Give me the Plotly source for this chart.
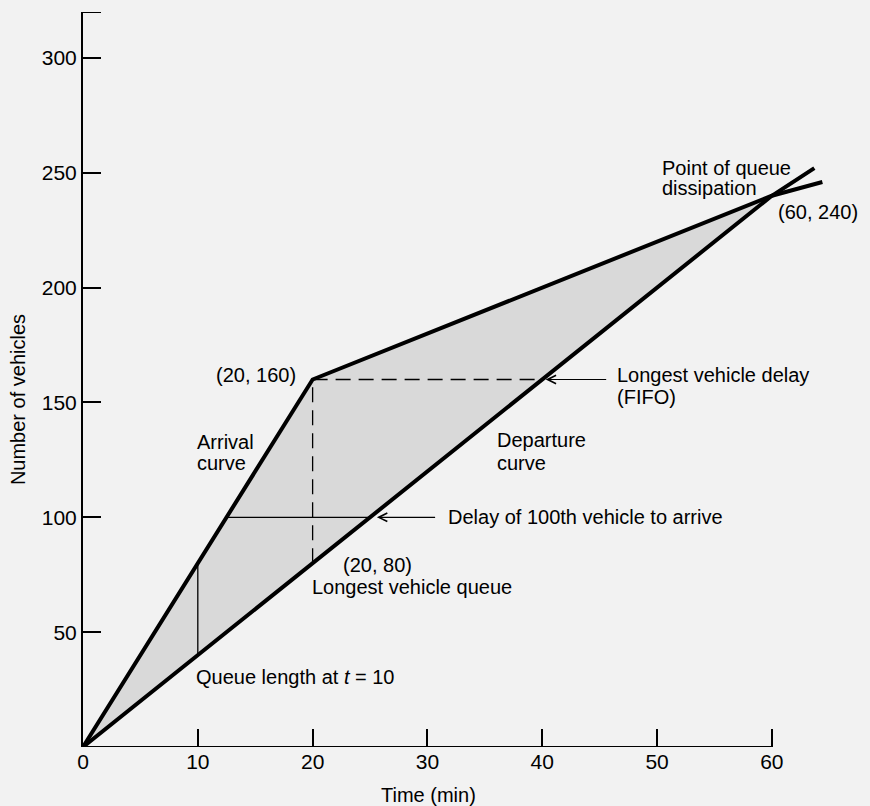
import plotly.graph_objects as go

# values
time_ticks = [0, 10, 20, 30, 40, 50, 60]
vehicle_ticks = [50, 100, 150, 200, 250, 300]
y_top = 320

arrival_time = [0, 20, 60, 64.4]
arrival_count = [0, 160, 240, 246]
departure_time = [0, 60, 63.7]
departure_count = [0, 240, 252]

queue_t10_time = [10, 10]
queue_t10_count = [40, 80]
longest_queue_time = [20, 20]
longest_queue_count = [80, 160]
longest_delay_time = [20, 40]
longest_delay_count = [160, 160]
delay100_time = [12.5, 25]
delay100_count = [100, 100]

FONT = "Liberation Sans, Arial, sans-serif"
BG = "#f2f2f2"

fig = go.Figure()

# shaded area between arrival and departure curves
fig.add_trace(go.Scatter(
    x=arrival_time[:3] + [departure_time[0]],
    y=arrival_count[:3] + [departure_count[0]],
    fill="toself", fillcolor="#d9d9d9", mode="none", hoverinfo="skip"))

fig.add_trace(go.Scatter(x=arrival_time, y=arrival_count, mode="lines",
                         line=dict(color="black", width=4)))
fig.add_trace(go.Scatter(x=departure_time, y=departure_count, mode="lines",
                         line=dict(color="black", width=4)))

fig.add_trace(go.Scatter(x=queue_t10_time, y=queue_t10_count, mode="lines",
                         line=dict(color="black", width=1.3)))
fig.add_trace(go.Scatter(x=longest_queue_time, y=longest_queue_count, mode="lines",
                         line=dict(color="black", width=1.3, dash="15px,8px")))
fig.add_trace(go.Scatter(x=longest_delay_time, y=longest_delay_count, mode="lines",
                         line=dict(color="black", width=1.3, dash="15px,8px")))
fig.add_trace(go.Scatter(x=delay100_time, y=delay100_count, mode="lines",
                         line=dict(color="black", width=1.3)))

# x axis line only up to 60, and the cap tick at the top of the y axis
fig.add_shape(type="line", x0=time_ticks[0], x1=time_ticks[-1], y0=0, y1=0,
              line=dict(color="black", width=2))
fig.add_shape(type="line", x0=0, x1=1.57, y0=y_top, y1=y_top,
              line=dict(color="black", width=2))


def label(x, y, text, anchor="left"):
    fig.add_annotation(x=x, y=y, text=text, showarrow=False, xanchor=anchor,
                       yanchor="middle", font=dict(size=20, color="black", family=FONT))


label(18.7, 162, "(20, 160)", "right")
label(9.76, 133, "Arrival")
label(9.76, 123.5, "curve")
label(35.9, 133.5, "Departure")
label(35.9, 123.5, "curve")
label(46.3, 162, "Longest vehicle delay")
label(46.3, 152.5, "(FIFO)")
label(31.6, 100, "Delay of 100th vehicle to arrive")
label(22.5, 79.3, "(20, 80)")
label(19.8, 69.8, "Longest vehicle queue")
label(9.67, 30.6, "Queue length at <i>t</i> = 10")
label(50.3, 252.2, "Point of queue")
label(50.3, 243.5, "dissipation")
label(60.4, 233, "(60, 240)")

# arrows
fig.add_annotation(x=40.3, y=160, ax=45.7, ay=160, axref="x", ayref="y", text="",
                   showarrow=True, arrowhead=5, arrowsize=1.4, arrowwidth=1.2,
                   arrowcolor="black", standoff=0)
fig.add_annotation(x=25.6, y=100, ax=30.8, ay=100, axref="x", ayref="y", text="",
                   showarrow=True, arrowhead=5, arrowsize=1.4, arrowwidth=1.2,
                   arrowcolor="black", standoff=0)

# axis titles
fig.add_annotation(xref="paper", yref="paper", x=-0.0864, y=0.472, text="Number of vehicles",
                   textangle=-90, showarrow=False, xanchor="center", yanchor="middle",
                   font=dict(size=20, color="black", family=FONT))
fig.add_annotation(xref="paper", yref="paper", x=0.4595, y=-0.0653, text="Time (min)",
                   showarrow=False, xanchor="center", yanchor="middle",
                   font=dict(size=20, color="black", family=FONT))

fig.update_layout(
    width=870, height=806, showlegend=False,
    margin=dict(l=83, r=35, t=12, b=59),
    paper_bgcolor=BG, plot_bgcolor=BG,
    font=dict(family=FONT, size=21, color="black"),
    xaxis=dict(range=[0, 65.5], tickvals=time_ticks, ticks="inside", ticklen=18,
               tickwidth=2, tickcolor="black", showline=False, showgrid=False,
               zeroline=False, tickfont=dict(size=21)),
    yaxis=dict(range=[0, y_top], tickvals=vehicle_ticks,
               ticks="inside", ticklen=18, tickwidth=2, tickcolor="black",
               showline=True, linewidth=2, linecolor="black", showgrid=False,
               zeroline=False, tickfont=dict(size=21)),
)

fig.write_html("out.html", config={"displayModeBar": False}, post_script=(
    "document.body.style.margin='0';"
    "document.body.style.background='#f2f2f2';"
    "document.body.style.overflow='hidden';"))
